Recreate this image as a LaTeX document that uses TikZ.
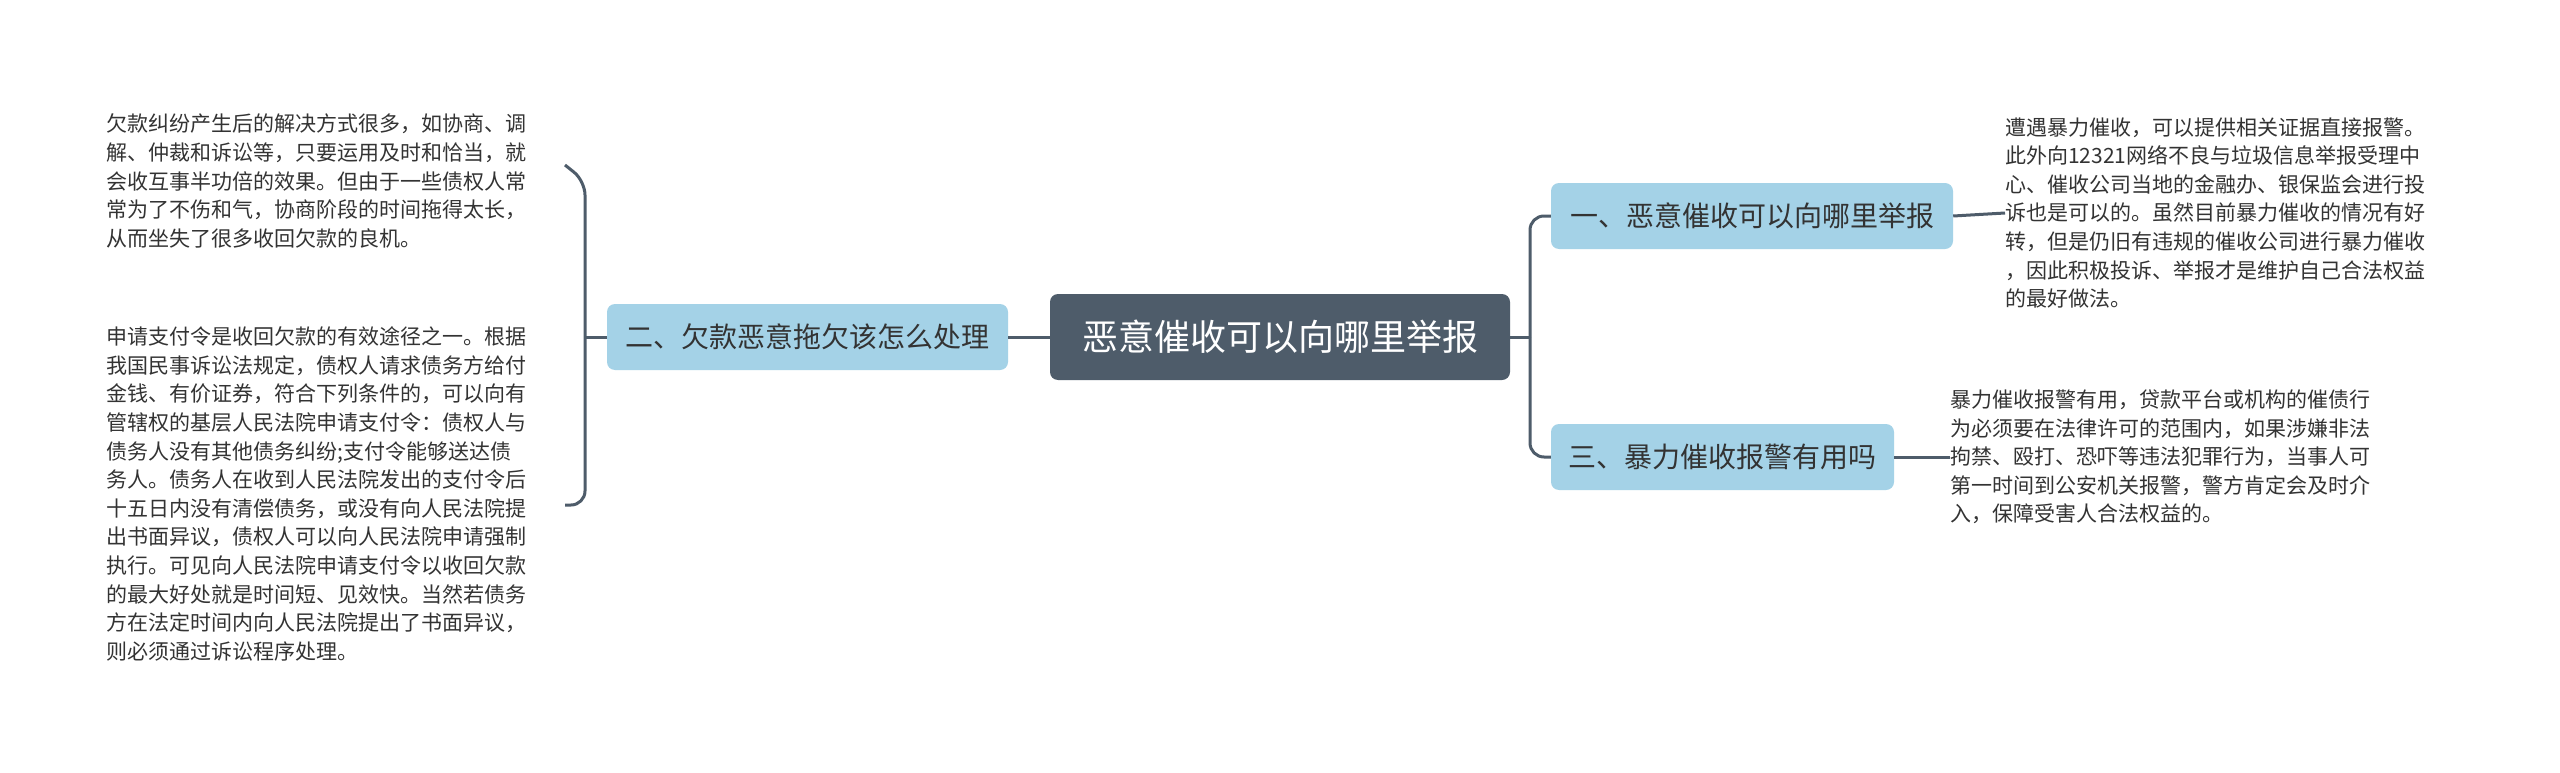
\documentclass[tikz,border=0pt]{standalone}
\usepackage{fontspec}
\setmainfont{Noto Sans CJK SC}
\begin{document}
\begin{tikzpicture}[x=1pt,y=-1pt,
  conn/.style={draw=linec,line width=3pt,rounded corners=14pt},
  sub/.style={fill=subfill,rounded corners=8pt,text=txt,font=\fontsize{28}{32}\selectfont,minimum height=66pt,inner xsep=12pt},
  para/.style={align=left,anchor=west,text=txt,font=\fontsize{21}{28.6}\selectfont,inner sep=0pt}]
\definecolor{linec}{HTML}{4E5C6A}
\definecolor{subfill}{HTML}{A4D2E7}
\definecolor{txt}{HTML}{333333}
\definecolor{mainfill}{HTML}{4E5C6A}
\useasboundingbox (0,0) rectangle (2560,773);
\fill[white] (0,0) rectangle (2560,773);
\node[fill=mainfill,rounded corners=8pt,text=white,font=\fontsize{36}{40}\selectfont,minimum width=460pt,minimum height=86pt] (c) at (1280,337) {恶意催收可以向哪里举报};
\node[sub,minimum width=401pt] (l) at (807.5,337) {二、欠款恶意拖欠该怎么处理};
\node[sub,minimum width=402pt] (r1) at (1752,216) {一、恶意催收可以向哪里举报};
\node[sub,minimum width=343pt] (r2) at (1722.5,457) {三、暴力催收报警有用吗};
\node[para] (t1) at (106,181) {欠款纠纷产生后的解决方式很多，如协商、调\\解、仲裁和诉讼等，只要运用及时和恰当，就\\会收互事半功倍的效果。但由于一些债权人常\\常为了不伤和气，协商阶段的时间拖得太长，\\从而坐失了很多收回欠款的良机。};
\node[para] (t2) at (106,494) {申请支付令是收回欠款的有效途径之一。根据\\我国民事诉讼法规定，债权人请求债务方给付\\金钱、有价证券，符合下列条件的，可以向有\\管辖权的基层人民法院申请支付令：债权人与\\债务人没有其他债务纠纷;支付令能够送达债\\务人。债务人在收到人民法院发出的支付令后\\十五日内没有清偿债务，或没有向人民法院提\\出书面异议，债权人可以向人民法院申请强制\\执行。可见向人民法院申请支付令以收回欠款\\的最大好处就是时间短、见效快。当然若债务\\方在法定时间内向人民法院提出了书面异议，\\则必须通过诉讼程序处理。};
\node[para] (t3) at (2005,213) {遭遇暴力催收，可以提供相关证据直接报警。\\此外向12321网络不良与垃圾信息举报受理中\\心、催收公司当地的金融办、银保监会进行投\\诉也是可以的。虽然目前暴力催收的情况有好\\转，但是仍旧有违规的催收公司进行暴力催收\\，因此积极投诉、举报才是维护自己合法权益\\的最好做法。};
\node[para] (t4) at (1950,457) {暴力催收报警有用，贷款平台或机构的催债行\\为必须要在法律许可的范围内，如果涉嫌非法\\拘禁、殴打、恐吓等违法犯罪行为，当事人可\\第一时间到公安机关报警，警方肯定会及时介\\入，保障受害人合法权益的。};
\coordinate (sp) at (1530,337);
\coordinate (lb) at (585,337);
\draw[conn] (c.west) -- (l.east);
\draw[conn] (c.east) -- (sp);
\draw[conn] (sp) |- (r1.west);
\draw[conn] (sp) |- (r2.west);
\draw[conn] (l.west) -- (lb);
\draw[conn] (565,165) -- (lb |- t1.west) -- (lb) -- (lb |- 0,505) -- (565,505);
\draw[conn] (r1.east) -- (t3.west);
\draw[conn] (r2.east) -- (t4.west);
\end{tikzpicture}
\end{document}
